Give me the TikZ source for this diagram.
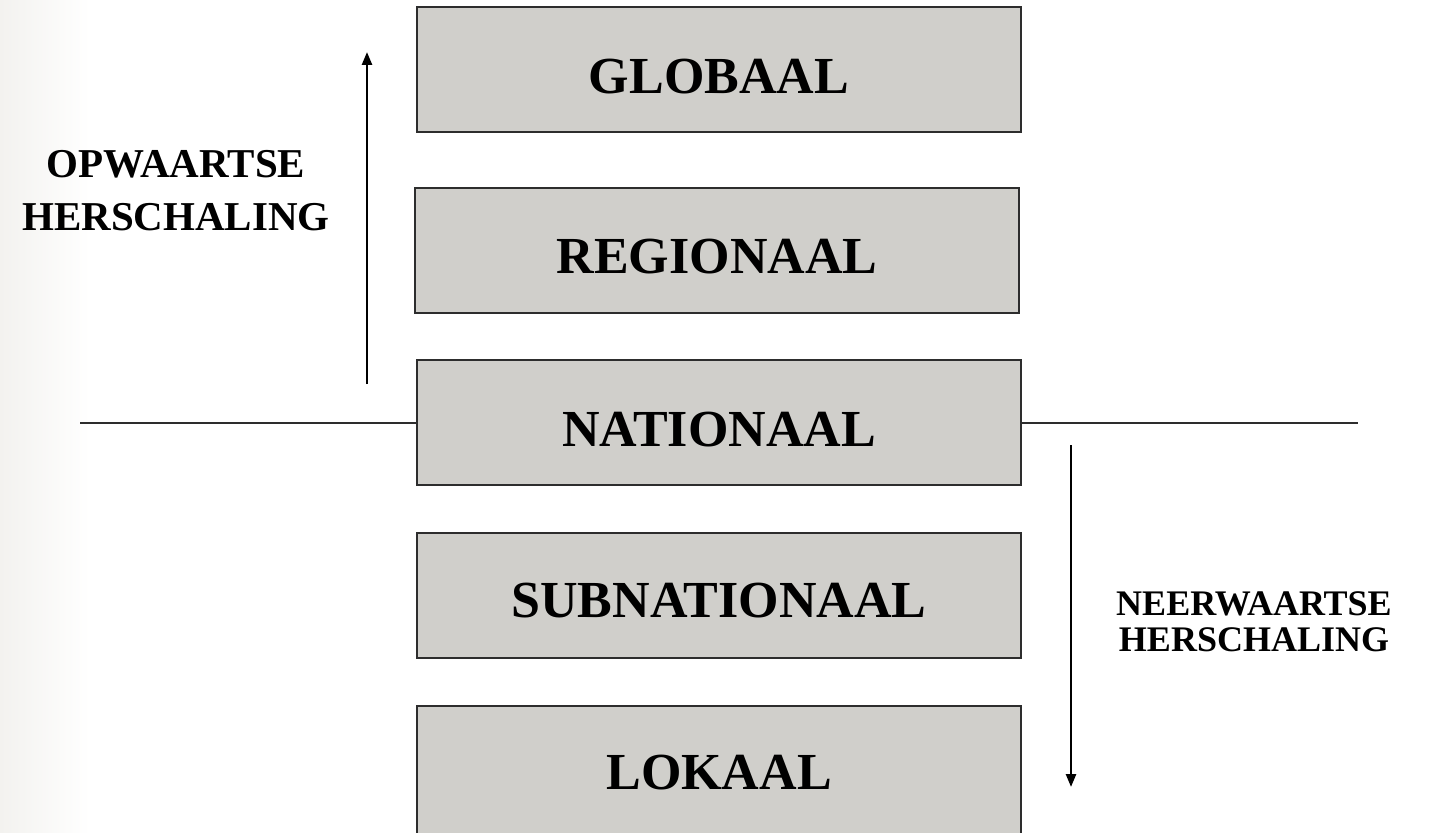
\documentclass[tikz,border=0pt]{standalone}
\usepackage{fontspec}
\setmainfont{Liberation Serif}
\usetikzlibrary{arrows.meta}
\definecolor{boxfill}{RGB}{208,207,203}
\definecolor{boxline}{RGB}{45,45,45}
\definecolor{edgegray}{RGB}{243,242,239}
\begin{document}
\begin{tikzpicture}[x=1pt,y=-1pt,
  level/.style={draw=boxline,line width=2pt,fill=boxfill,minimum width=604pt,minimum height=125pt,
    inner sep=0pt},
  lvltext/.style={inner sep=0pt,font=\fontsize{52}{58}\selectfont\bfseries},
  sidelabel/.style={align=center,inner sep=0pt},
  arr/.style={line width=2.5pt,-{Triangle[length=13pt,width=10pt]}},
  sepline/.style={draw=boxline,line width=2pt}]
\useasboundingbox (0,0) rectangle (1431,832);
\shade[left color=edgegray,right color=white] (0,0) rectangle (90,832);
\node[level] (glob) at (719,69.5) {};
\node[level] (reg) at (717,250) {};
\node[level] (nat) at (719,422.5) {};
\node[level] (sub) at (719,595.5) {};
\node[level,minimum height=136pt] (lok) at (719,774) {};
\node[lvltext] (globt) at ([yshift=-7pt]glob.center) {GLOBAAL};
\node[lvltext] (regt) at ([yshift=-7pt]reg.center) {REGIONAAL};
\node[lvltext] (natt) at ([yshift=-7pt]nat.center) {NATIONAAL};
\node[lvltext] (subt) at ([yshift=-5pt]sub.center) {SUBNATIONAAL};
\node[lvltext] (lokt) at ([yshift=1pt]lok.center) {LOKAAL};
\coordinate (lstart) at (80,423);
\coordinate (rend) at (1358,423);
\draw[sepline] (lstart) -- (lstart -| nat.west);
\draw[sepline] (nat.east |- rend) -- (rend);
\coordinate (upfrom) at (367,384);
\coordinate (upto) at (367,52);
\draw[arr] (upfrom) -- (upto);
\coordinate (dnfrom) at (1071,445);
\coordinate (dnto) at (1071,787);
\draw[arr] (dnfrom) -- (dnto);
\node[sidelabel,font=\fontsize{41}{53}\selectfont\bfseries] (up) at (176,191) {OPWAARTSE\\HERSCHALING};
\node[sidelabel,font=\fontsize{36}{36}\selectfont\bfseries] (down) at (1254,622) {NEERWAARTSE\\HERSCHALING};
\end{tikzpicture}
\end{document}
